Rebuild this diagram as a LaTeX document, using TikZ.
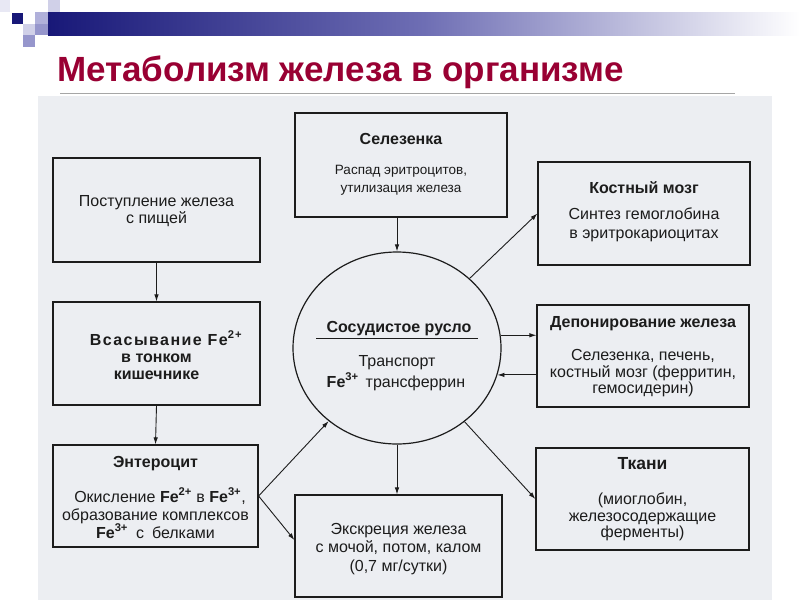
\documentclass[tikz,border=0pt]{standalone}
\usepackage{fontspec}
\setmainfont{Liberation Sans}
\usetikzlibrary{shapes.geometric,arrows.meta,calc}
\definecolor{titlered}{RGB}{153,0,51}
\definecolor{navy}{RGB}{24,24,120}
\definecolor{barmid}{RGB}{110,110,180}
\definecolor{lav0}{RGB}{232,232,244}
\definecolor{lav1}{RGB}{208,208,232}
\definecolor{lav2}{RGB}{176,176,218}
\definecolor{lav3}{RGB}{150,150,204}
\definecolor{scanbg}{RGB}{236,238,242}
\definecolor{ink}{RGB}{28,28,28}
\begin{document}
\begin{tikzpicture}[x=1pt,y=-1pt,
  box/.style={draw=ink,line width=1.2pt,inner sep=0pt},
  arr/.style={draw=ink,line width=0.9pt,-{Latex[length=7pt,width=4.5pt]}},
  hd/.style={anchor=base,inner sep=0pt,text=ink,font=\fontsize{16}{19}\selectfont\bfseries},
  tx/.style={anchor=base,inner sep=0pt,text=ink,font=\fontsize{16}{19}\selectfont},
  txs/.style={anchor=base,inner sep=0pt,text=ink,font=\fontsize{13.5}{16}\selectfont}]
\useasboundingbox (0,0) rectangle (800,600);
\fill[white] (0,0) rectangle (800,600);
% header
\fill[lav0] (0,0) rectangle (10,12);
\fill[lav1] (48,0) rectangle (60,12);
\fill[navy] (12,13) rectangle (23,24);
\fill[lav2] (35,12) rectangle (48,24);
\fill[lav1] (23,24) rectangle (35,35);
\fill[lav3] (35,24) rectangle (48,35);
\fill[lav3] (23,35) rectangle (35,47);
\shade[left color=navy,right color=white,middle color=barmid] (48,12) rectangle (800,35);
% title
\node[anchor=base west,inner sep=0pt,text=titlered,font=\fontsize{35}{40}\selectfont\bfseries] (title) at (57,81) {Метаболизм железа в организме};
\fill[scanbg] (38,96) rectangle (772,600);
\draw[gray!70,line width=1pt] (60,93) -- (735,93);
% boxes
\node[box,minimum width=207pt,minimum height=104pt] (A) at (156.5,210) {};
\node[box,minimum width=212pt,minimum height=104pt] (B) at (401,165) {};
\node[box,minimum width=212pt,minimum height=103pt] (C) at (644,213.5) {};
\node[box,minimum width=207pt,minimum height=103pt] (D) at (156.5,353.5) {};
\node[box,minimum width=212pt,minimum height=102pt] (E) at (643,356) {};
\node[box,minimum width=205pt,minimum height=102pt] (F) at (155.5,496) {};
\node[box,minimum width=207pt,minimum height=102pt] (G) at (398.5,546) {};
\node[box,minimum width=213pt,minimum height=102pt] (H) at (642.5,499) {};
\node[box,ellipse,minimum width=208pt,minimum height=192pt] (circ) at (397,348) {};
% texts
\node[tx] (a1) at (156.5,206) {Поступление железа};
\node[tx] (a2) at (156.5,223) {с пищей};
\node[hd] (b1) at (401,144) {Селезенка};
\node[txs] (b2) at (401,174) {Распад эритроцитов,};
\node[txs] (b3) at (401,192) {утилизация железа};
\node[hd] (c1) at (644,193) {Костный мозг};
\node[tx] (c2) at (644,219) {Синтез гемоглобина};
\node[tx] (c3) at (644,238) {в эритрокариоцитах};
\node[hd] (d1) at (166,345) {\addfontfeature{LetterSpace=9}Всасывание Fe\textsuperscript{2+}};
\node[hd] (d2) at (156.5,362) {в тонком};
\node[hd] (d3) at (156.5,379) {кишечнике};
\node[hd] (k1) at (399,332) {Сосудистое русло};
\draw[ink,line width=1pt] (316,338) -- (478,338);
\node[tx] (k2) at (397,366) {Транспорт};
\node[tx] (k3) at (396,387) {\textbf{Fe}\textsuperscript{\bfseries 3+}\hspace{7pt}трансферрин};
\node[hd] (e1) at (643,327) {Депонирование железа};
\node[tx] (e2) at (643,360) {Селезенка, печень,};
\node[tx] (e3) at (643,377) {костный мозг (ферритин,};
\node[tx] (e4) at (643,393) {гемосидерин)};
\node[hd] (f1) at (155.5,467) {Энтероцит};
\node[tx] (f2) at (160,502) {Окисление \textbf{Fe}\textsuperscript{\bfseries 2+} в \textbf{Fe}\textsuperscript{\bfseries 3+},};
\node[tx] (f3) at (155.5,520) {образование комплексов};
\node[tx] (f4) at (155.5,538) {\textbf{Fe}\textsuperscript{\bfseries 3+}\hspace{8pt}с\hspace{8pt}белками};
\node[tx] (g1) at (398.5,534) {Экскреция железа};
\node[tx] (g2) at (398.5,552) {с мочой, потом, калом};
\node[tx] (g3) at (398.5,571) {(0,7 мг/сутки)};
\node[hd,font=\fontsize{17.5}{20}\selectfont\bfseries] (h1) at (642.5,469) {Ткани};
\node[tx] (h2) at (642.5,504) {(миоглобин,};
\node[tx] (h3) at (642.5,521) {железосодержащие};
\node[tx] (h4) at (642.5,537) {ферменты)};
% arrows
\draw[arr] (A.south) -- (D.north);
\draw[arr] (D.south) -- (F.north);
\draw[arr] (B.south -| circ.north) -- (circ.north);
\draw[arr] (circ) -- (C.west);
\draw[arr] (circ.7) -- (circ.7 -| E.west);
\draw[arr] (E.west |- circ.-15) -- (circ.-15);
\draw[arr] (F.east) -- (circ);
\draw[arr] (F.east) -- ([yshift=6pt]G.west);
\draw[arr] (circ.south) -- (circ.south |- G.north);
\draw[arr] (circ) -- (H.west);
\end{tikzpicture}
\end{document}
